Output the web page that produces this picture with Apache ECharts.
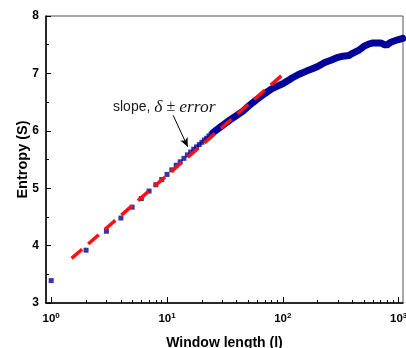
<!DOCTYPE html>
<html><head><meta charset="utf-8">
<script src="https://cdn.jsdelivr.net/npm/echarts@6/dist/echarts.min.js"></script>
<style>html,body{margin:0;padding:0;background:#fff}#c{width:406px;height:348px}</style>
</head><body><div id="c"></div>
<script>
// Sparse low-l points (individual squares)
var pointX = [1,2,3,4,5,6,7,8,9,10,11,12,13,14,15,16,17,18,19,20,21,22,23,24,25,26,27,28,29,30];
var pointY = [3.39,3.92,4.25,4.48,4.67,4.82,4.95,5.06,5.15,5.24,5.32,5.40,5.46,5.52,5.58,5.63,5.68,5.72,5.76,5.80,5.84,5.87,5.91,5.94,5.97,5.99,6.02,6.04,6.07,6.09];
// Dense high-l points (merged squares, read along band centre)
var denseX = [25,30,35,40,45,50,55,60,70,80,90,100,110,120,140,160,180,200,230,260,300,330,370,400,450,500,550,600,650,700,750,800,850,900,1000,1085];
var denseY = [5.97,6.09,6.19,6.27,6.34,6.42,6.49,6.55,6.65,6.73,6.78,6.82,6.87,6.92,6.99,7.04,7.08,7.12,7.19,7.23,7.28,7.30,7.31,7.35,7.40,7.47,7.51,7.53,7.53,7.53,7.50,7.50,7.54,7.56,7.59,7.61];
// Linear fit (red dashed)
var fitX = [1.5, 107.4];
var fitY = [3.777, 7.035];
var majorTicksX = [1,10,100,1000];
var minorTicksX = [2,3,4,5,6,7,8,9,20,30,40,50,60,70,80,90,200,300,400,500,600,700,800,900];
var arrowFrom = [11.3, 6.27];
var arrowTo = [15.1, 5.72];

function zip(a,b){return a.map(function(v,i){return [v,b[i]];});}
var chart = echarts.init(document.getElementById('c'));
var F = 'Liberation Sans, Arial, sans-serif';
chart.setOption({
  animation:false,
  grid:{left:46,right:3,top:16,bottom:45,outerBoundsMode:'none',containLabel:false,show:true,borderColor:'#555',borderWidth:1,backgroundColor:'transparent'},
  xAxis:[{
    type:'log', min:0.902, max:1090, logBase:10,
    axisLine:{show:true,onZero:false,lineStyle:{color:'#000',width:1.5}},
    axisTick:{show:true,inside:true,length:6,customValues:majorTicksX,lineStyle:{color:'#000',width:1}},
    axisLabel:{show:true,customValues:majorTicksX,margin:9,hideOverlap:false,
      formatter:function(v){return '{b|10}{s|'+Math.round(Math.log10(v))+'}';},
      rich:{b:{fontFamily:F,fontWeight:'bold',fontSize:11.5,color:'#000'},
            s:{fontFamily:F,fontWeight:'bold',fontSize:8,color:'#000',verticalAlign:'top',padding:[0,0,6,0]}}},
    splitLine:{show:false},
    name:'Window length (l)', nameLocation:'middle', nameGap:33,
    nameTextStyle:{fontFamily:F,fontWeight:'bold',fontSize:14,color:'#000'}
  },{
    type:'log', min:0.902, max:1090, logBase:10, position:'bottom',
    axisLine:{show:false},
    axisTick:{show:true,inside:true,length:3,customValues:minorTicksX,lineStyle:{color:'#000',width:1}},
    axisLabel:{show:false}, splitLine:{show:false}
  }],
  yAxis:{
    type:'value', min:3, max:8, interval:1,
    axisLine:{show:true,lineStyle:{color:'#000',width:1.5}},
    axisTick:{show:true,inside:true,length:5,lineStyle:{color:'#000'}},
    minorTick:{show:true,splitNumber:2,length:3,lineStyle:{color:'#000'}},
    axisLabel:{fontFamily:F,fontWeight:'bold',fontSize:12,color:'#000',margin:7},
    splitLine:{show:false},
    name:'Entropy (S)', nameLocation:'middle', nameGap:16, nameRotate:90, nameMoveOverlap:false,
    nameTextStyle:{fontFamily:F,fontWeight:'bold',fontSize:14.5,color:'#000'}
  },
  series:[
    {type:'line', data:zip(denseX,denseY), showSymbol:false, smooth:false,
     lineStyle:{color:'#02029a',width:7,cap:'round',join:'round'}, z:2},
    {type:'scatter', data:zip(pointX,pointY), symbol:'rect', symbolSize:5,
     itemStyle:{color:'#02029a'}, z:3},
    {type:'line', data:zip(fitX,fitY), showSymbol:false,
     lineStyle:{color:'#ff0f0f',width:3.5,type:[14,8],cap:'butt'}, z:4,
     markLine:{silent:true, symbol:['none','arrow'], symbolSize:[6,9],
       lineStyle:{color:'#000',width:1,type:'solid'}, label:{show:false},
       data:[[{coord:arrowFrom},{coord:arrowTo}]]}}
  ],
  graphic:[{type:'text', left:113, top:98, style:{
    text:'{n|slope, }{i|δ}{r| ± }{i|error}',
    rich:{n:{fontFamily:F,fontSize:14,fill:'#1a1a1a'},
          i:{fontFamily:'Liberation Serif, serif',fontStyle:'italic',fontSize:17.5,fill:'#1a1a1a'},
          r:{fontFamily:'Liberation Serif, serif',fontSize:16,fill:'#1a1a1a'}}}}]
});
</script></body></html>
